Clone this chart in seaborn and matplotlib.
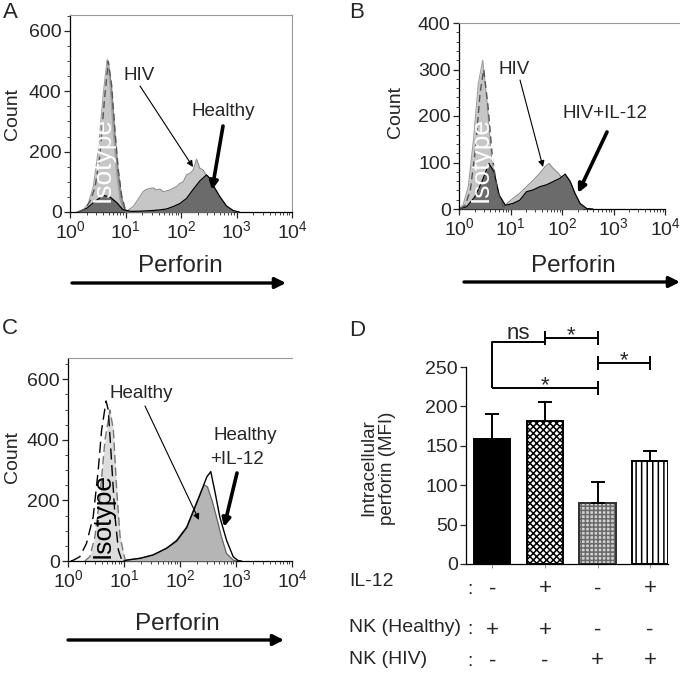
"""
Perforin flow histograms (A-C) and MFI summary bar chart (D).
"""

import numpy as np
import seaborn as sns
import matplotlib
matplotlib.use("Agg")
import matplotlib.pyplot as plt
import matplotlib.transforms as mtransforms
from matplotlib.patches import FancyArrowPatch, Rectangle
from matplotlib.ticker import (LogLocator, LogFormatterMathtext, MultipleLocator,
                               NullFormatter)

sns.set_style("ticks")
plt.rcParams["font.family"] = ["Liberation Sans", "DejaVu Sans"]
plt.rcParams["mathtext.fontset"] = "custom"
plt.rcParams["mathtext.rm"] = "Liberation Sans"
plt.rcParams["mathtext.it"] = "Liberation Sans:italic"
plt.rcParams["hatch.linewidth"] = 1.1

# ---- data: histograms as (log10 perforin, count) ----
# panel A
a_iso_log = [0.12, 0.24, 0.33, 0.42, 0.51, 0.60, 0.67, 0.72, 0.78, 0.84, 0.90, 0.96, 1.02]
a_iso_cnt = [0, 7, 29, 84, 205, 393, 506, 427, 261, 128, 40, 7, 0]
a_iso2_log = [0.15, 0.27, 0.36, 0.45, 0.54, 0.62, 0.69, 0.75, 0.81, 0.87, 0.93, 0.99, 1.05]
a_iso2_cnt = [0, 10, 35, 80, 190, 370, 500, 420, 270, 140, 55, 12, 0]
a_hiv_log = [0.95, 1.02, 1.14, 1.26, 1.32, 1.38, 1.44, 1.50, 1.56, 1.62, 1.68, 1.74, 1.80,
             1.86, 1.92, 1.98, 2.04, 2.10, 2.16, 2.22, 2.28, 2.34, 2.40, 2.46, 2.52,
             2.58, 2.64, 2.70, 2.82, 2.94]
a_hiv_cnt = [0, 3, 18, 51, 68, 75, 78, 80, 73, 76, 67, 70, 73, 79, 84, 95, 100, 123,
             128, 139, 175, 145, 139, 120, 106, 84, 67, 40, 8, 0]
a_hc_log = [0.15, 0.30, 0.45, 0.60, 0.72, 0.85, 0.95, 1.10, 1.30, 1.50, 1.62, 1.74, 1.86,
            1.98, 2.10, 2.22, 2.34, 2.46, 2.52, 2.58, 2.70, 2.82, 2.94, 3.05]
a_hc_cnt = [0, 12, 35, 55, 50, 30, 8, 2, 3, 5, 7, 10, 18, 28, 45, 75, 103, 123, 112,
            88, 51, 20, 5, 0]

# panel B
b_iso_log = [0.0, 0.08, 0.18, 0.28, 0.375, 0.46, 0.54, 0.63, 0.73, 0.83, 0.93]
b_iso_cnt = [0, 9, 48, 148, 270, 320, 234, 113, 34, 5, 0]
b_iso2_log = [0.02, 0.12, 0.22, 0.32, 0.41, 0.48, 0.56, 0.65, 0.75, 0.85, 0.95]
b_iso2_cnt = [0, 8, 40, 130, 250, 300, 225, 110, 35, 6, 0]
b_hiv_log = [0.85, 0.93, 1.05, 1.18, 1.31, 1.44, 1.57, 1.67, 1.75, 1.83, 1.93, 2.03,
             2.16, 2.28, 2.41]
b_hiv_cnt = [0, 12, 23, 34, 48, 62, 77, 91, 98, 87, 77, 62, 34, 9, 0]
b_il12_log = [0.0, 0.15, 0.30, 0.45, 0.58, 0.68, 0.78, 0.90, 1.05, 1.18, 1.31, 1.44,
              1.57, 1.70, 1.83, 1.96, 2.06, 2.16, 2.25, 2.35, 2.48, 2.60]
b_il12_cnt = [0, 5, 25, 60, 98, 80, 30, 8, 12, 19, 37, 41, 48, 52, 59, 66, 75, 59,
              34, 12, 1, 0]

# panel C
c_iso_log = [0.30, 0.39, 0.48, 0.57, 0.66, 0.75, 0.81, 0.87, 0.93, 1.02, 1.05]
c_iso_cnt = [0, 14, 80, 212, 399, 498, 432, 234, 80, 3, 0]
c_iso2_log = [0.05, 0.10, 0.21, 0.33, 0.45, 0.54, 0.60, 0.68, 0.72, 0.78, 0.84, 0.90,
              0.96, 1.00]
c_iso2_cnt = [0, 3, 14, 58, 146, 300, 432, 528, 498, 322, 146, 36, 3, 0]
c_hc_log = [1.00, 1.05, 1.29, 1.52, 1.76, 1.94, 2.12, 2.24, 2.36, 2.43, 2.49, 2.57,
            2.65, 2.74, 2.83, 2.95, 3.02]
c_hc_cnt = [0, 3, 9, 20, 42, 69, 113, 168, 223, 251, 245, 201, 146, 80, 25, 3, 0]
c_il12_log = [1.00, 1.05, 1.29, 1.52, 1.76, 1.94, 2.12, 2.24, 2.36, 2.48, 2.55, 2.63,
              2.71, 2.83, 2.95, 3.04, 3.10]
c_il12_cnt = [0, 3, 9, 20, 42, 66, 110, 165, 220, 278, 295, 223, 146, 69, 14, 1, 0]

# panel D
conditions = ["NK healthy", "NK healthy + IL-12", "NK HIV", "NK HIV + IL-12"]
mfi = [158, 182, 78, 131]
mfi_sem = [32, 23, 26, 12]
il12_row = ["-", "+", "-", "+"]
healthy_row = ["+", "+", "-", "-"]
hiv_row = ["-", "-", "+", "+"]

W, H = 680, 674
fig = plt.figure(figsize=(6.8, 6.74), dpi=100)


def box(x0, y0, x1, y1):
    return [x0 / W, 1 - y1 / H, (x1 - x0) / W, (y1 - y0) / H]


def fp(x, y):
    return (x / W, 1 - y / H)


def ftext(x, y, s, size=13, **kw):
    kw.setdefault("ha", "center")
    kw.setdefault("va", "center")
    return fig.text(*fp(x, y), s, fontsize=size, **kw)


def farrow(x0, y0, x1, y1, lw=0.8, ms=10):
    fig.add_artist(FancyArrowPatch(fp(x0, y0), fp(x1, y1), transform=fig.transFigure,
                                   arrowstyle="-|>", lw=lw, mutation_scale=ms,
                                   color="black", shrinkA=0, shrinkB=0))


def draw_hist(ax, logs, counts, fill=None, edge="black", lw=1.0, ls="-", z=2):
    x = 10 ** np.asarray(logs, dtype=float)
    y = np.asarray(counts, dtype=float)
    if fill is not None:
        ax.fill_between(x, y, color=fill, lw=0, zorder=z)
    if edge is not None:
        sns.lineplot(x=x, y=y, ax=ax, color=edge, lw=lw, linestyle=ls, zorder=z + 0.5,
                     sort=False, estimator=None, legend=False)


def flow_axes(rect, ymax, major, minor, xmax=1e4, right=False):
    ax = fig.add_axes(rect)
    ax.set_xscale("log")
    ax.set_xlim(1, xmax)
    ax.set_ylim(0, ymax)
    ax.xaxis.set_major_locator(LogLocator(base=10, numticks=10))
    ax.xaxis.set_minor_locator(LogLocator(base=10, subs=np.arange(2, 10), numticks=40))
    ax.xaxis.set_major_formatter(LogFormatterMathtext())
    ax.xaxis.set_minor_formatter(NullFormatter())
    ax.yaxis.set_major_locator(MultipleLocator(major))
    ax.yaxis.set_minor_locator(MultipleLocator(minor))
    ax.tick_params(which="major", direction="out", length=4, width=0.9, labelsize=14,
                   pad=2)
    ax.tick_params(which="minor", direction="out", length=2, width=0.6)
    for s in ["left", "bottom"]:
        ax.spines[s].set_color("black")
        ax.spines[s].set_linewidth(0.9)
    ax.spines["top"].set_visible(True)
    ax.spines["top"].set_color("#999999")
    ax.spines["top"].set_linewidth(0.8)
    ax.spines["right"].set_visible(right)
    ax.spines["right"].set_color("#999999")
    ax.spines["right"].set_linewidth(0.8)
    ax.spines["bottom"].set_bounds(1, 1e4)
    ax.set_xlabel("")
    ax.set_ylabel("")
    return ax


LIGHT = "#c6c6c6"
DARK = "#6b6b6b"

# ---- panel A ----
axA = flow_axes(box(70, 15, 292, 212), 653, 200, 50, right=True)
draw_hist(axA, a_iso2_log, a_iso2_cnt, fill="#8a8a8a", edge=None, z=1)
draw_hist(axA, a_iso_log, a_iso_cnt, fill=LIGHT, edge="#a0a0a0", lw=0.8, z=2)
draw_hist(axA, a_hiv_log, a_hiv_cnt, fill=LIGHT, edge="#8c8c8c", lw=0.8, z=3)
draw_hist(axA, a_hc_log, a_hc_cnt, fill=DARK, edge="black", lw=0.9, z=4)
draw_hist(axA, a_iso2_log, a_iso2_cnt, fill=None, edge="#555555", lw=1.0,
          ls=(0, (5, 3)), z=6)
ftext(103, 160, "Isotype", 19, color="white", rotation=90, zorder=10)

# ---- panel B ----
axB = flow_axes(box(459, 23, 680, 209), 400, 100, 20, xmax=10 ** 4.29)
draw_hist(axB, b_iso_log, b_iso_cnt, fill=LIGHT, edge="#a0a0a0", lw=0.8, z=2)
draw_hist(axB, b_hiv_log, b_hiv_cnt, fill=LIGHT, edge="#8c8c8c", lw=0.8, z=3)
draw_hist(axB, b_il12_log, b_il12_cnt, fill=DARK, edge="black", lw=0.9, z=4)
draw_hist(axB, b_iso2_log, b_iso2_cnt, fill=None, edge="#555555", lw=1.0,
          ls=(0, (5, 3)), z=6)
ftext(481, 160, "Isotype", 19, color="white", rotation=90, zorder=10)

# ---- panel C ----
axC = flow_axes(box(68, 358, 292, 561), 670, 200, 50)
draw_hist(axC, c_iso_log, c_iso_cnt, fill="#dddddd", edge="#777777", lw=1.0,
          ls=(0, (6, 3)), z=2)
draw_hist(axC, c_iso2_log, c_iso2_cnt, fill=None, edge="black", lw=1.0,
          ls=(0, (8, 4)), z=3)
draw_hist(axC, c_hc_log, c_hc_cnt, fill="#b5b5b5", edge="#666666", lw=0.9, z=4)
draw_hist(axC, c_il12_log, c_il12_cnt, fill=None, edge="black", lw=1.0, z=5)
ftext(103, 515, "Isotype", 19, color="black", rotation=90, zorder=10)

# axis titles, arrows, annotations for A-C
for x, y in [(12, 114), (395, 112), (13, 457)]:
    ftext(x, y, "Count", 14, rotation=90)
for x, y, x0, x1, ya in [(180, 266, 72, 286, 283), (573, 266, 464, 680, 282),
                         (177, 624, 68, 284, 640)]:
    ftext(x, y, "Perforin", 17.5)
    farrow(x0, ya, x1, ya, lw=2.4, ms=16)

ftext(139, 75, "HIV", 13.5)
farrow(140, 86, 193, 167, lw=0.8, ms=9)
ftext(223, 111, "Healthy", 13.5)
farrow(223, 126, 212, 190, lw=2.6, ms=12)

ftext(514, 70, "HIV", 13.5)
farrow(520, 80, 543, 167, lw=0.8, ms=9)
ftext(605, 114, "HIV+IL-12", 13.5)
farrow(607, 132, 578, 193, lw=2.6, ms=12)

ftext(141, 394, "Healthy", 13.5)
farrow(145, 406, 199, 520, lw=0.8, ms=9)
ftext(245, 435, "Healthy", 13.5)
ftext(237, 459, "+IL-12", 13.5)
farrow(237, 473, 224, 527, lw=2.6, ms=12)

# ---- panel D ----
axD = fig.add_axes(box(466, 367, 668, 564))
sns.barplot(x=conditions, y=mfi, ax=axD, color="white", edgecolor="black",
            linewidth=1.4, width=0.69, errorbar=None, zorder=2)
axD.errorbar(range(len(mfi)), mfi, yerr=[np.zeros(len(mfi)), mfi_sem], fmt="none",
             ecolor="black", elinewidth=1.4, capsize=5, capthick=1.4, zorder=3)
bars = axD.patches
bars[0].set_facecolor("black")
bars[1].set_hatch("xxxxx")
bars[2].set_facecolor("#d2d2d2")
bars[2].set_edgecolor("#6a6a6a")
bars[2].set_hatch("++++")
axD.add_patch(Rectangle((bars[2].get_x(), 0), bars[2].get_width(), bars[2].get_height(),
                        fill=False, edgecolor="#333333", lw=1.4, zorder=2.5))
bars[3].set_hatch("|||")

axD.set_ylim(0, 250)
axD.set_xlim(-0.5, 3.34)
axD.yaxis.set_major_locator(MultipleLocator(50))
axD.set_xticks(range(4))
axD.set_xticklabels([""] * 4)
axD.tick_params(axis="y", direction="out", length=4, width=0.9, labelsize=14, pad=2)
axD.tick_params(axis="x", direction="out", length=3, width=0.6, colors="#888888")
axD.set_xlabel("")
axD.set_ylabel("")
sns.despine(ax=axD)
for s in ["left", "bottom"]:
    axD.spines[s].set_color("black")
    axD.spines[s].set_linewidth(0.9)

# significance brackets
bk = dict(color="black", lw=1.4, clip_on=False, solid_capstyle="butt")
axD.plot([0, 0, 1], [223, 282, 282], **bk)
axD.plot([0, 2], [223, 223], **bk)
axD.plot([2, 2], [214, 232], **bk)
axD.plot([1, 2], [287, 287], **bk)
axD.plot([1, 1], [278, 296], **bk)
axD.plot([2, 2], [278, 296], **bk)
axD.plot([2, 3], [255, 255], **bk)
axD.plot([2, 2], [246, 264], **bk)
axD.plot([3, 3], [246, 264], **bk)
axD.text(0.5, 286, "ns", fontsize=16, ha="center", va="baseline", clip_on=False)
for xm, yb in [(1.0, 223), (1.5, 287), (2.5, 255)]:
    axD.text(xm, yb - 4, "*", fontsize=16, ha="center", va="baseline", clip_on=False)

fig.text(*fp(378, 468), "Intracellular\nperforin (MFI)", fontsize=13.5, rotation=90,
         ha="center", va="center", multialignment="center", linespacing=1.1)

# condition table under panel D
tr = mtransforms.blended_transform_factory(axD.transData, fig.transFigure)
rows = [("IL-12", il12_row, 581, 589), ("NK (Healthy)", healthy_row, 628, 630),
        ("NK (HIV)", hiv_row, 659, 661)]
for label, marks, ylab, ysym in rows:
    ftext(349, ylab, label, 14, ha="left")
    ftext(470, ysym, ":", 14)
    for i, m in enumerate(marks):
        axD.text(i, 1 - ysym / H, m, fontsize=16, ha="center", va="center",
                 transform=tr, clip_on=False)

# panel letters
for x, y, s in [(10, 13, "A"), (357, 12, "B"), (10, 329, "C"), (357, 331, "D")]:
    ftext(x, y, s, 16)

fig.savefig("out.png", dpi=100)
